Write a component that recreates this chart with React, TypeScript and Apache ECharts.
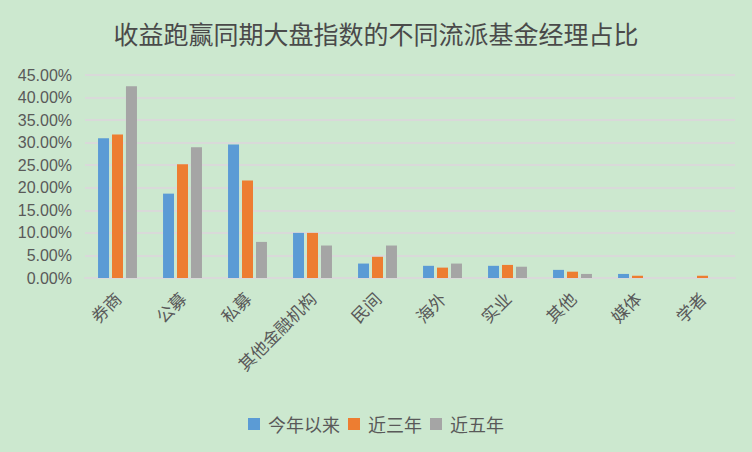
import React, { useEffect, useRef } from "react";
import * as echarts from "echarts";

const categories = ["券商", "公募", "私募", "其他金融机构", "民间", "海外", "实业", "其他", "媒体", "学者"];
const seriesNames = ["今年以来", "近三年", "近五年"];
const thisYear = [0.31, 0.187, 0.296, 0.1, 0.032, 0.027, 0.027, 0.018, 0.009, 0];
const threeYears = [0.318, 0.252, 0.216, 0.1, 0.047, 0.023, 0.029, 0.014, 0.005, 0.005];
const fiveYears = [0.425, 0.29, 0.08, 0.072, 0.072, 0.032, 0.025, 0.009, 0, 0];
const colors = ["#5B9BD5", "#ED7D31", "#A5A5A5"];

export default function App() {
  const ref = useRef<HTMLDivElement>(null);
  useEffect(() => {
    if (!ref.current) return;
    const chart = echarts.init(ref.current, null, { renderer: "svg" });
    const data = [thisYear, threeYears, fiveYears];
    chart.setOption({
      animation: false,
      backgroundColor: "#CCE8CF",
      title: {
        text: "收益跑赢同期大盘指数的不同流派基金经理占比",
        left: "center",
        top: 15,
        textStyle: {
          fontFamily: "Noto Sans CJK SC",
          fontSize: 25,
          fontWeight: "normal",
          color: "#4A4A4A",
        },
      },
      legend: {
        top: 410,
        left: "center",
        itemWidth: 12,
        itemHeight: 12,
        itemGap: 8,
        icon: "rect",
        textStyle: { fontFamily: "Noto Sans CJK SC", fontSize: 18, color: "#595959", padding: [0, 0, 0, 3] },
        data: seriesNames,
      },
      grid: { left: 85, right: 17, top: 75, bottom: 174 },
      xAxis: {
        type: "category",
        data: categories,
        axisLine: { show: true, lineStyle: { color: "#D9D9D9", width: 2 } },
        axisTick: { show: false },
        axisLabel: {
          rotate: 45,
          interval: 0,
          margin: 17,
          fontFamily: "Noto Sans CJK SC",
          fontSize: 17,
          color: "#595959",
        },
      },
      yAxis: {
        type: "value",
        min: 0,
        max: 0.45,
        interval: 0.05,
        axisLine: { show: false },
        axisTick: { show: false },
        splitLine: { lineStyle: { color: "#D9D9D9", width: 2 } },
        axisLabel: {
          margin: 13,
          fontFamily: "Liberation Sans",
          fontSize: 16,
          color: "#595959",
          formatter: (v: number) => (v * 100).toFixed(2) + "%",
        },
      },
      series: seriesNames.map((name, i) => ({
        name,
        type: "bar",
        data: data[i],
        barWidth: 11,
        barGap: "27%",
        itemStyle: { color: colors[i] },
      })),
    });
    return () => chart.dispose();
  }, []);
  return <div ref={ref} style={{ width: 752, height: 452, position: "absolute", left: 0, top: 0 }} />;
}
